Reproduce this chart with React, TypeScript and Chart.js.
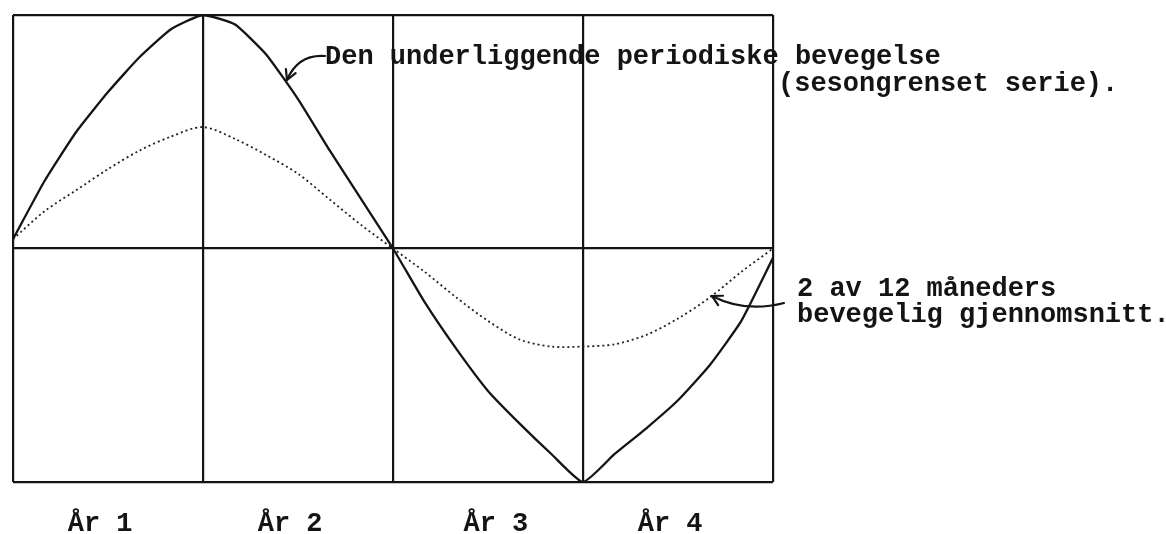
import React, { useEffect, useRef } from "react";
import { Chart, registerables } from "chart.js";

Chart.register(...registerables);

// ---- data (months from start, every second month) ----
const MONTHS = [0, 2, 4, 6, 8, 10, 12, 14, 16, 18, 20, 22, 24, 26, 28, 30, 32, 34, 36, 38, 40, 42, 44, 46, 48];
const UNDERLYING = [4, 29, 50, 67, 82, 94, 100, 96, 83, 64, 42, 21, 0, -23, -43, -61, -75, -88, -100, -88, -77, -65, -50, -31, -4];
const MOVING_AVG = [4, 16, 25, 34, 42, 48, 52, 47, 40, 32, 21, 10, 0, -10, -21, -31, -39, -42, -42, -41, -37, -30, -21, -10, 0];

const YEAR_BOUNDARIES = [0, 12, 24, 36, 48];
const YEAR_LABELS = ["År 1", "År 2", "År 3", "År 4"];
const YEAR_LABEL_POS = [5.5, 17.5, 30.5, 41.5];
const Y_LINES = [-100, 0, 100];

const NOTE_TOP = ["Den underliggende periodiske bevegelse", "(sesongrenset serie)."];
const NOTE_BOTTOM = ["2 av 12 måneders", "bevegelig gjennomsnitt."];

const INK = "#141414";
const FONT_FAMILY = "'Liberation Mono', 'DejaVu Sans Mono', monospace";
const FONT_SIZE = 27;
const FONT = `bold ${FONT_SIZE}px ${FONT_FAMILY}`;

function drawArrow(
  ctx: CanvasRenderingContext2D,
  sx: number, sy: number, cx: number, cy: number, ex: number, ey: number
) {
  ctx.beginPath();
  ctx.moveTo(sx, sy);
  ctx.quadraticCurveTo(cx, cy, ex, ey);
  ctx.stroke();
  const ang = Math.atan2(ey - cy, ex - cx);
  const len = 11;
  const spread = 0.5;
  ctx.beginPath();
  ctx.moveTo(ex - len * Math.cos(ang - spread), ey - len * Math.sin(ang - spread));
  ctx.lineTo(ex, ey);
  ctx.lineTo(ex - len * Math.cos(ang + spread), ey - len * Math.sin(ang + spread));
  ctx.stroke();
}

const notesPlugin = {
  id: "notes",
  afterDraw(chart: any) {
    const ctx: CanvasRenderingContext2D = chart.ctx;
    ctx.save();
    ctx.fillStyle = INK;
    ctx.strokeStyle = INK;
    ctx.font = FONT;
    ctx.textAlign = "left";
    ctx.textBaseline = "alphabetic";
    ctx.fillText(NOTE_TOP[0], 325, 64);
    ctx.fillText(NOTE_TOP[1], 778, 91);
    ctx.fillText(NOTE_BOTTOM[0], 797, 296);
    ctx.fillText(NOTE_BOTTOM[1], 797, 322);
    ctx.lineWidth = 2.2;
    ctx.lineCap = "round";
    drawArrow(ctx, 325, 56, 298, 54, 287, 80);
    drawArrow(ctx, 784, 303, 745, 313, 712, 296);
    ctx.restore();
  },
};

export default function App() {
  const canvasRef = useRef<HTMLCanvasElement | null>(null);

  useEffect(() => {
    const canvas = canvasRef.current;
    if (!canvas) return;
    const underlying = MONTHS.map((m, i) => ({ x: m, y: UNDERLYING[i] }));
    const movingAvg = MONTHS.map((m, i) => ({ x: m, y: MOVING_AVG[i] }));

    const chart = new Chart(canvas, {
      type: "line",
      data: {
        datasets: [
          {
            label: "Den underliggende periodiske bevegelse",
            data: underlying,
            borderColor: INK,
            borderWidth: 2.3,
            pointRadius: 0,
            tension: 0.16,
            fill: false,
          },
          {
            label: "2 av 12 måneders bevegelig gjennomsnitt",
            data: movingAvg,
            borderColor: "#222",
            borderWidth: 1.8,
            borderDash: [2, 3],
            pointRadius: 0,
            tension: 0.3,
            fill: false,
          },
        ],
      },
      options: {
        animation: false,
        responsive: false,
        devicePixelRatio: 1,
        layout: { padding: { left: 13, right: 393, top: 15, bottom: 0 } },
        plugins: {
          legend: { display: false },
          tooltip: { enabled: false },
          title: { display: false },
        },
        scales: {
          x: {
            type: "linear",
            min: 0,
            max: 48,
            afterBuildTicks: (scale: any) => {
              const vals = [...YEAR_BOUNDARIES, ...YEAR_LABEL_POS].sort((a, b) => a - b);
              scale.ticks = vals.map((v) => ({ value: v }));
            },
            afterFit: (scale: any) => {
              scale.height = 52;
              scale.paddingLeft = 0;
              scale.paddingRight = 0;
            },
            grid: {
              drawTicks: false,
              lineWidth: 2.2,
              color: (ctx: any) =>
                ctx.tick && YEAR_BOUNDARIES.includes(ctx.tick.value) ? INK : "rgba(0,0,0,0)",
            },
            border: { display: false },
            ticks: {
              autoSkip: false,
              maxRotation: 0,
              padding: 26,
              color: INK,
              font: { family: FONT_FAMILY, size: FONT_SIZE, weight: "bold" },
              callback: (value: any) => {
                const idx = YEAR_LABEL_POS.indexOf(Number(value));
                return idx >= 0 ? YEAR_LABELS[idx] : "";
              },
            },
          },
          y: {
            type: "linear",
            min: -100,
            max: 100,
            afterBuildTicks: (scale: any) => {
              scale.ticks = Y_LINES.map((v) => ({ value: v }));
            },
            afterFit: (scale: any) => {
              scale.width = 0;
              scale.paddingTop = 0;
              scale.paddingBottom = 0;
            },
            grid: { drawTicks: false, lineWidth: 2.2, color: INK },
            border: { display: false },
            ticks: { display: false },
          },
        },
      },
      plugins: [notesPlugin],
    } as any);

    return () => chart.destroy();
  }, []);

  return (
    <div style={{ position: "absolute", left: 0, top: 0, width: 1166, height: 534, background: "#fff" }}>
      <canvas ref={canvasRef} width={1166} height={534} style={{ display: "block" }} />
    </div>
  );
}
